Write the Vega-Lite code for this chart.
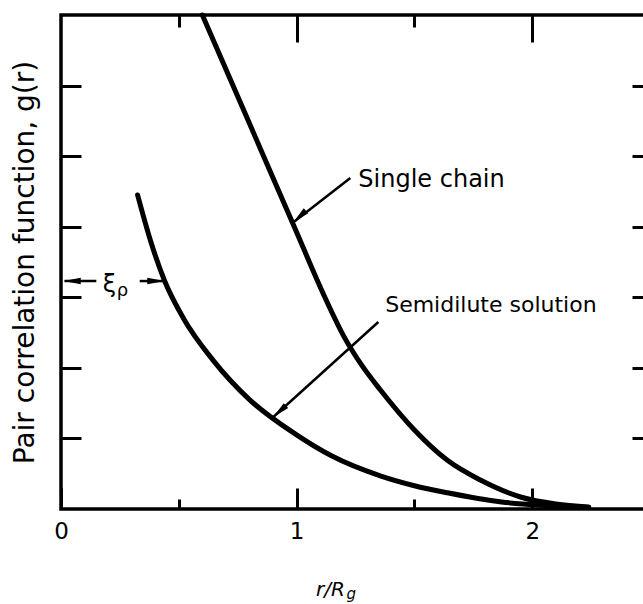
{
  "$schema": "https://vega.github.io/schema/vega-lite/v6.json",
  "width": 589,
  "height": 494,
  "autosize": "none",
  "padding": {"left": 61, "top": 15, "right": 0, "bottom": 95},
  "background": "white",
  "config": {
    "view": {"stroke": "black", "strokeWidth": 3.5},
    "font": "DejaVu Sans",
    "axis": {"domain": false, "grid": false, "tickColor": "black", "tickWidth": 3, "labelColor": "black", "titleColor": "black", "titleFontWeight": "normal"}
  },
  "datasets": {
    "curves": [
      {"series": "Single chain", "r": 0.60, "g": 7.0},
      {"series": "Single chain", "r": 0.73, "g": 6.0},
      {"series": "Single chain", "r": 0.86, "g": 5.0},
      {"series": "Single chain", "r": 0.99, "g": 4.0},
      {"series": "Single chain", "r": 1.12, "g": 3.0},
      {"series": "Single chain", "r": 1.20, "g": 2.45},
      {"series": "Single chain", "r": 1.28, "g": 2.02},
      {"series": "Single chain", "r": 1.355, "g": 1.69},
      {"series": "Single chain", "r": 1.50, "g": 1.12},
      {"series": "Single chain", "r": 1.64, "g": 0.69},
      {"series": "Single chain", "r": 1.78, "g": 0.41},
      {"series": "Single chain", "r": 1.95, "g": 0.17},
      {"series": "Single chain", "r": 2.10, "g": 0.07},
      {"series": "Single chain", "r": 2.24, "g": 0.03},
      {"series": "Semidilute solution", "r": 0.325, "g": 4.45},
      {"series": "Semidilute solution", "r": 0.38, "g": 3.8},
      {"series": "Semidilute solution", "r": 0.44, "g": 3.23},
      {"series": "Semidilute solution", "r": 0.52, "g": 2.7},
      {"series": "Semidilute solution", "r": 0.645, "g": 2.11},
      {"series": "Semidilute solution", "r": 0.80, "g": 1.55},
      {"series": "Semidilute solution", "r": 1.00, "g": 1.05},
      {"series": "Semidilute solution", "r": 1.15, "g": 0.75},
      {"series": "Semidilute solution", "r": 1.355, "g": 0.47},
      {"series": "Semidilute solution", "r": 1.50, "g": 0.33},
      {"series": "Semidilute solution", "r": 1.64, "g": 0.23},
      {"series": "Semidilute solution", "r": 1.87, "g": 0.10},
      {"series": "Semidilute solution", "r": 2.05, "g": 0.05},
      {"series": "Semidilute solution", "r": 2.24, "g": 0.02}
    ],
    "arrows": [
      {"name": "single", "x": 1.228, "y": 4.69, "x2": 0.985, "y2": 4.06},
      {"name": "semi", "x": 1.347, "y": 2.65, "x2": 0.9, "y2": 1.3},
      {"name": "xi-left", "x": 0.15, "y": 3.23, "x2": 0.015, "y2": 3.23},
      {"name": "xi-right", "x": 0.334, "y": 3.23, "x2": 0.44, "y2": 3.23}
    ],
    "heads": [
      {"kind": "slant", "x": 0.985, "y": 4.06},
      {"kind": "slant", "x": 0.9, "y": 1.3},
      {"kind": "left", "x": 0.01, "y": 3.23},
      {"kind": "right", "x": 0.44, "y": 3.23}
    ],
    "label1": [
      {"text": "Single chain", "x": 1.262, "y": 4.66}
    ],
    "label2": [
      {"text": "Semidilute solution", "x": 1.376, "y": 2.89}
    ],
    "xi": [
      {"text": "ξ", "x": 0.177, "y": 3.17}
    ],
    "subs": [
      {"text": "ρ", "x": 0.237, "y": 3.17}
    ],
    "xsub": [
      {"text": "g", "x": 1.212, "y": -1.27}
    ]
  },
  "layer": [
    {
      "data": {"name": "curves"},
      "mark": {"type": "line", "strokeWidth": 5, "color": "black", "interpolate": "monotone", "strokeCap": "round"},
      "encoding": {
        "x": {"field": "r", "type": "quantitative", "scale": {"domain": [0, 2.5], "nice": false, "zero": false},
          "axis": {"orient": "bottom", "values": [0, 1, 2], "tickSize": -21, "labelPadding": 32, "labelFontSize": 23, "labelFlush": false,
            "title": "r/R", "titleFontSize": 20, "titleFontStyle": "italic", "titleX": 269, "titleY": 86, "titleBaseline": "alphabetic", "titleAlign": "center"}},
        "y": {"field": "g", "type": "quantitative", "scale": {"domain": [0, 7], "nice": false},
          "axis": {"orient": "left", "values": [1, 2, 3, 4, 5, 6], "tickSize": -20, "labels": false,
            "title": "Pair correlation function, g(r)", "titleFontSize": 28, "titleX": -28, "titleBaseline": "alphabetic"}},
        "detail": {"field": "series"}
      }
    },
    {
      "data": {"name": "curves"},
      "mark": {"type": "point", "opacity": 0},
      "encoding": {
        "x": {"field": "r", "type": "quantitative", "axis": {"orient": "bottom", "values": [0.5, 1.5], "tickSize": -10, "labels": false, "title": null}},
        "y": {"field": "g", "type": "quantitative", "axis": {"orient": "right", "values": [1, 2, 3, 4, 5, 6], "tickSize": -18, "labels": false, "title": null}}
      }
    },
    {
      "data": {"name": "curves"},
      "mark": {"type": "point", "opacity": 0},
      "encoding": {
        "x": {"field": "r", "type": "quantitative", "axis": {"orient": "top", "values": [1, 2], "tickSize": -27, "labels": false, "title": null}},
        "y": {"field": "g", "type": "quantitative", "axis": null}
      }
    },
    {
      "data": {"name": "curves"},
      "mark": {"type": "point", "opacity": 0},
      "encoding": {
        "x": {"field": "r", "type": "quantitative", "axis": {"orient": "top", "values": [0.5, 1.5], "tickSize": -12, "labels": false, "title": null}},
        "y": {"field": "g", "type": "quantitative", "axis": null}
      }
    },
    {
      "data": {"name": "arrows"},
      "mark": {"type": "rule", "strokeWidth": 2.5, "color": "black"},
      "encoding": {
        "x": {"field": "x", "type": "quantitative", "axis": null},
        "y": {"field": "y", "type": "quantitative", "axis": null},
        "x2": {"field": "x2"},
        "y2": {"field": "y2"}
      }
    },
    {
      "data": {"name": "heads"},
      "transform": [{"filter": "datum.kind === 'slant'"}],
      "mark": {"type": "point", "shape": "M0,0 L0.42,2.2 L-0.42,2.2 Z", "filled": true, "color": "black", "opacity": 1, "size": 250, "angle": 228, "strokeWidth": 0},
      "encoding": {
        "x": {"field": "x", "type": "quantitative", "axis": null},
        "y": {"field": "y", "type": "quantitative", "axis": null}
      }
    },
    {
      "data": {"name": "heads"},
      "transform": [{"filter": "datum.kind === 'left'"}],
      "mark": {"type": "point", "shape": "M0,0 L0.42,2.2 L-0.42,2.2 Z", "filled": true, "color": "black", "opacity": 1, "size": 250, "angle": 270, "strokeWidth": 0},
      "encoding": {
        "x": {"field": "x", "type": "quantitative", "axis": null},
        "y": {"field": "y", "type": "quantitative", "axis": null}
      }
    },
    {
      "data": {"name": "heads"},
      "transform": [{"filter": "datum.kind === 'right'"}],
      "mark": {"type": "point", "shape": "M0,0 L0.42,2.2 L-0.42,2.2 Z", "filled": true, "color": "black", "opacity": 1, "size": 250, "angle": 90, "strokeWidth": 0},
      "encoding": {
        "x": {"field": "x", "type": "quantitative", "axis": null},
        "y": {"field": "y", "type": "quantitative", "axis": null}
      }
    },
    {
      "data": {"name": "label1"},
      "mark": {"type": "text", "align": "left", "baseline": "middle", "fontSize": 24, "color": "black"},
      "encoding": {
        "x": {"field": "x", "type": "quantitative", "axis": null},
        "y": {"field": "y", "type": "quantitative", "axis": null},
        "text": {"field": "text"}
      }
    },
    {
      "data": {"name": "label2"},
      "mark": {"type": "text", "align": "left", "baseline": "middle", "fontSize": 22, "color": "black"},
      "encoding": {
        "x": {"field": "x", "type": "quantitative", "axis": null},
        "y": {"field": "y", "type": "quantitative", "axis": null},
        "text": {"field": "text"}
      }
    },
    {
      "data": {"name": "xi"},
      "mark": {"type": "text", "align": "left", "baseline": "middle", "fontSize": 24, "color": "black"},
      "encoding": {
        "x": {"field": "x", "type": "quantitative", "axis": null},
        "y": {"field": "y", "type": "quantitative", "axis": null},
        "text": {"field": "text"}
      }
    },
    {
      "data": {"name": "subs"},
      "mark": {"type": "text", "align": "left", "baseline": "middle", "fontSize": 18, "dy": 6, "color": "black"},
      "encoding": {
        "x": {"field": "x", "type": "quantitative", "axis": null},
        "y": {"field": "y", "type": "quantitative", "axis": null},
        "text": {"field": "text"}
      }
    },
    {
      "data": {"name": "xsub"},
      "mark": {"type": "text", "align": "left", "baseline": "alphabetic", "fontSize": 15, "color": "black", "fontStyle": "italic"},
      "encoding": {
        "x": {"field": "x", "type": "quantitative", "axis": null},
        "y": {"field": "y", "type": "quantitative", "axis": null},
        "text": {"field": "text"}
      }
    }
  ],
  "resolve": {"axis": {"x": "independent", "y": "independent"}}
}
